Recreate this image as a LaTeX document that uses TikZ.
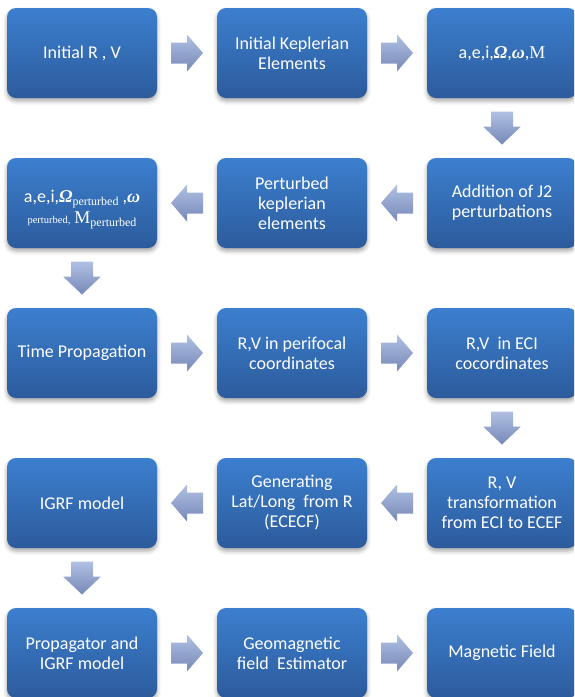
\documentclass[tikz,border=0pt]{standalone}
\usepackage{fontspec}
\setmainfont{Carlito}
\newfontfamily\serifm{Liberation Serif}
\usetikzlibrary{calc,shadows.blur}
\definecolor{boxtop}{RGB}{60,127,207}
\definecolor{boxbot}{RGB}{44,91,156}
\definecolor{arrtop}{RGB}{176,193,228}
\definecolor{arrbot}{RGB}{118,136,182}
\newcommand{\gOm}{{\serifm\bfseries\itshape Ω}}
\newcommand{\gom}{{\serifm\bfseries\itshape ω}}
\newcommand{\sM}{{\serifm\fontsize{18}{18}\selectfont M}}
\newcommand{\pertsub}{\raisebox{-3.5pt}{\serifm\fontsize{12}{12}\selectfont perturbed}}
\tikzset{
  box/.style={rounded corners=9pt, minimum width=150pt, minimum height=90pt,
    inner sep=2pt, align=center, text=white,
    font=\fontsize{18}{20}\selectfont,
    top color=boxtop, bottom color=boxbot,
    blur shadow={shadow xshift=0pt, shadow yshift=-3pt, shadow blur radius=4pt, shadow opacity=35}},
  arrshade/.style={top color=arrtop, bottom color=arrbot, draw=none},
  pics/rarr/.style={code={\shade[arrshade] (-16,-10.5) -- (0,-10.5) -- (0,-18.5) -- (16,0) -- (0,18.5) -- (0,10.5) -- (-16,10.5) -- cycle;}},
  pics/larr/.style={code={\shade[arrshade] (16,-10.5) -- (0,-10.5) -- (0,-18.5) -- (-16,0) -- (0,18.5) -- (0,10.5) -- (16,10.5) -- cycle;}},
  pics/darr/.style={code={\shade[arrshade] (-11,16.5) -- (-11,1.5) -- (-19,1.5) -- (0,-16.5) -- (19,1.5) -- (11,1.5) -- (11,16.5) -- cycle;}},
}
\begin{document}
\begin{tikzpicture}[x=1pt,y=1pt]
\useasboundingbox (0,0) rectangle (574,-697);
\begin{scope}
\clip (0,0) rectangle (574,-697);
% row 1
\node[box] (b11) at (82,-53) {Initial R , V};
\node[box] (b12) at (292,-53) {Initial Keplerian\\Elements};
\node[box] (b13) at (502,-53) {a,e,i,\gOm,\gom,\sM};
% row 2
\node[box] (b21) at (82,-203) {\rule{0pt}{26pt}a,e,i,\gOm\pertsub\ ,\gom\\[1pt]{\serifm\fontsize{10.5}{12}\selectfont perturbed,} \sM\pertsub};
\node[box] (b22) at (292,-203) {Perturbed\\keplerian\\elements};
\node[box] (b23) at (502,-203) {Addition of J2\\perturbations};
% row 3
\node[box] (b31) at (82,-353) {Time Propagation};
\node[box] (b32) at (292,-353) {R,V in perifocal\\coordinates};
\node[box] (b33) at (502,-353) {R,V\ \ in ECI\\cocordinates};
% row 4
\node[box] (b41) at (82,-503) {IGRF model};
\node[box] (b42) at (292,-503) {Generating\\Lat/Long\ \ from R\\(ECECF)};
\node[box] (b43) at (502,-503) {R, V\\transformation\\from ECI to ECEF};
% row 5
\node[box] (b51) at (82,-653) {Propagator and\\IGRF model};
\node[box] (b52) at (292,-653) {Geomagnetic\\field\ \ Estimator};
\node[box] (b53) at (502,-653) {Magnetic Field};
\end{scope}
% connectors
\pic at ($(b11.east)!0.5!(b12.west)$) {rarr};
\pic at ($(b12.east)!0.5!(b13.west)$) {rarr};
\pic at ($(b13.south)!0.5!(b23.north)$) {darr};
\pic at ($(b23.west)!0.5!(b22.east)$) {larr};
\pic at ($(b22.west)!0.5!(b21.east)$) {larr};
\pic at ($(b21.south)!0.5!(b31.north)$) {darr};
\pic at ($(b31.east)!0.5!(b32.west)$) {rarr};
\pic at ($(b32.east)!0.5!(b33.west)$) {rarr};
\pic at ($(b33.south)!0.5!(b43.north)$) {darr};
\pic at ($(b43.west)!0.5!(b42.east)$) {larr};
\pic at ($(b42.west)!0.5!(b41.east)$) {larr};
\pic at ($(b41.south)!0.5!(b51.north)$) {darr};
\pic at ($(b51.east)!0.5!(b52.west)$) {rarr};
\pic at ($(b52.east)!0.5!(b53.west)$) {rarr};
\end{tikzpicture}
\end{document}
